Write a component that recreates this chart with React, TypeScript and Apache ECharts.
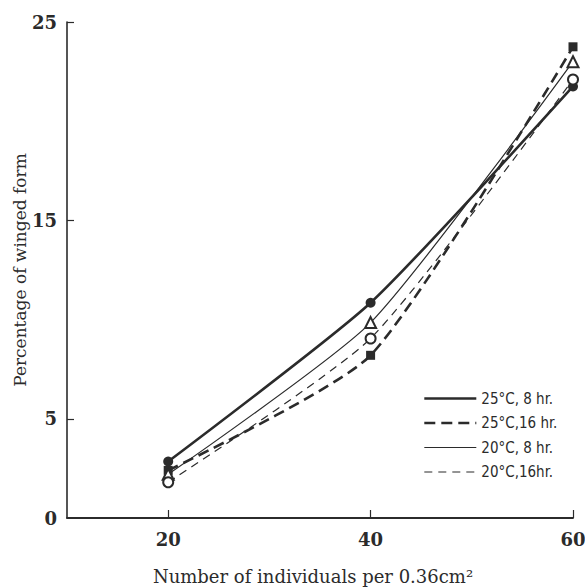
import React, { useEffect, useRef } from "react";
import * as echarts from "echarts";

const xValues = [20, 40, 60];
const seriesNames = ["25°C, 8 hr.", "25°C,16 hr.", "20°C, 8 hr.", "20°C,16hr."];
const s25_8 = [2.85, 10.85, 21.75];
const s25_16 = [2.4, 8.2, 23.75];
const s20_8 = [2.2, 9.85, 23.0];
const s20_16 = [1.8, 9.05, 22.1];
const yLabelValues = [0, 5, 15, 25];
const yTickValues = [5, 15, 25];
const xTickValues = [20, 40, 60];

const INK = "#2b2b2b";
const SERIF = "'DejaVu Serif', 'Liberation Serif', serif";
const LEGEND_FONT = "'DejaVu Sans Condensed', 'Liberation Sans Narrow', 'DejaVu Sans', sans-serif";

function pairs(vals: number[]) {
  return xValues.map((x, i) => [x, vals[i]]);
}

export default function App() {
  const ref = useRef<HTMLDivElement>(null);
  useEffect(() => {
    if (!ref.current) return;
    const chart = echarts.init(ref.current, null, { renderer: "svg" });
    const common = { type: "line", showSymbol: true, smooth: 0.2, z: 3 } as any;
    chart.setOption({
      animation: false,
      backgroundColor: "#ffffff",
      grid: { left: 67, right: 12, top: 22, bottom: 69, outerBoundsMode: "none", containLabel: false },
      legend: {
        orient: "vertical",
        left: 418,
        top: 386,
        itemWidth: 52,
        itemHeight: 14,
        itemGap: 9.5,
        itemStyle: { opacity: 0 },
        lineStyle: { width: "inherit" },
        textStyle: { fontFamily: LEGEND_FONT, fontSize: 15, color: INK, padding: [0, 0, 0, 0] },
        data: seriesNames,
      },
      xAxis: {
        type: "value",
        min: 10,
        max: 60,
        name: "Number of individuals per 0.36cm²",
        nameLocation: "middle",
        nameGap: 49,
        nameMoveOverlap: false,
        nameTextStyle: { fontFamily: SERIF, fontSize: 18, color: INK, padding: [0, 14, 0, 0] },
        axisLine: { lineStyle: { color: INK, width: 1.8 } },
        axisTick: { inside: true, length: 8, customValues: xTickValues, lineStyle: { color: INK, width: 1.2 } },
        axisLabel: { customValues: xTickValues, margin: 12, fontFamily: SERIF, fontWeight: "bold", fontSize: 18, color: INK },
        splitLine: { show: false },
      },
      yAxis: {
        type: "value",
        min: 0,
        max: 25,
        name: "Percentage of winged form",
        nameLocation: "middle",
        nameGap: 39,
        nameMoveOverlap: false,
        nameTextStyle: { fontFamily: SERIF, fontSize: 17, color: INK },
        axisLine: { show: true, lineStyle: { color: INK, width: 1.6 } },
        axisTick: { show: true, inside: true, length: 7, customValues: yTickValues, lineStyle: { color: INK, width: 1.2 } },
        axisLabel: { customValues: yLabelValues, margin: 10, fontFamily: SERIF, fontWeight: "bold", fontSize: 18, color: INK },
        splitLine: { show: false },
      },
      series: [
        {
          ...common,
          name: seriesNames[0],
          data: pairs(s25_8),
          symbol: "circle",
          symbolSize: 10,
          lineStyle: { color: INK, width: 2.6, type: "solid" },
          itemStyle: { color: INK },
        },
        {
          ...common,
          name: seriesNames[1],
          data: pairs(s25_16),
          symbol: "rect",
          symbolSize: 9,
          lineStyle: { color: INK, width: 2.6, type: [11, 6] },
          itemStyle: { color: INK },
        },
        {
          ...common,
          name: seriesNames[2],
          data: pairs(s20_8),
          symbol: "emptyTriangle",
          symbolSize: 11,
          lineStyle: { color: INK, width: 1.2, type: "solid" },
          itemStyle: { color: INK, borderWidth: 1.6 },
        },
        {
          ...common,
          name: seriesNames[3],
          data: pairs(s20_16),
          symbol: "emptyCircle",
          symbolSize: 10,
          lineStyle: { color: INK, width: 1.2, type: [8, 6] },
          itemStyle: { color: INK, borderWidth: 1.6 },
        },
      ],
    });
    return () => chart.dispose();
  }, []);
  return (
    <div
      ref={ref}
      style={{ position: "fixed", left: 0, top: 0, width: 585, height: 587 }}
    />
  );
}
